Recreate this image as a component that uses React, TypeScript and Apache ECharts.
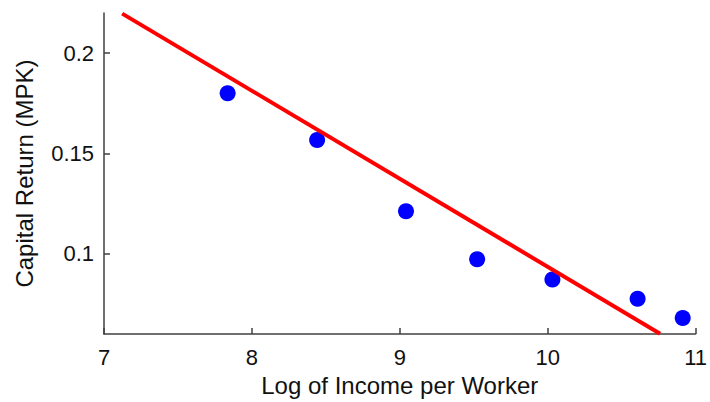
import React, { useEffect, useRef } from "react";
import * as echarts from "echarts";

const logIncome = [7.836, 8.441, 9.042, 9.523, 10.032, 10.608, 10.913];
const mpk = [0.18, 0.1567, 0.1212, 0.0973, 0.0872, 0.0776, 0.068];
const fitX = [7.123, 10.76];
const fitY = [0.2197, 0.0602];
const yTicks = [0.1, 0.15, 0.2];

export default function App() {
  const ref = useRef<HTMLDivElement>(null);
  useEffect(() => {
    if (!ref.current) return;
    const chart = echarts.init(ref.current, null, { renderer: "svg" });
    const font = "'Liberation Sans', Arial, Helvetica, sans-serif";
    const axisColor = "#404040";
    chart.setOption({
      animation: false,
      backgroundColor: "#ffffff",
      grid: { left: 104, top: 13, right: 11, bottom: 64, containLabel: false },
      xAxis: {
        type: "value",
        min: 7,
        max: 11,
        interval: 1,
        name: "Log of Income per Worker",
        nameLocation: "middle",
        nameGap: 38,
        nameTextStyle: { fontFamily: font, fontSize: 24, color: "#111" },
        axisLine: { show: true, onZero: false, lineStyle: { color: axisColor, width: 1.5 } },
        axisTick: { show: true, inside: true, length: 6, lineStyle: { color: axisColor, width: 1.5 } },
        axisLabel: { fontFamily: font, fontSize: 22, color: "#111", margin: 12 },
        splitLine: { show: false },
      },
      yAxis: {
        type: "value",
        min: 0.06,
        max: 0.22,
        name: "Capital Return (MPK)",
        nameLocation: "middle",
        nameGap: 68,
        nameTextStyle: { fontFamily: font, fontSize: 24, color: "#111" },
        axisLine: { show: true, onZero: false, lineStyle: { color: axisColor, width: 1.5 } },
        axisTick: { show: true, inside: true, length: 6, customValues: yTicks, lineStyle: { color: axisColor, width: 1.5 } },
        axisLabel: { fontFamily: font, fontSize: 22, color: "#111", margin: 10, customValues: yTicks },
        splitLine: { show: false },
      },
      series: [
        {
          type: "scatter",
          data: logIncome.map((x, i) => [x, mpk[i]]),
          symbol: "circle",
          symbolSize: 16,
          itemStyle: { color: "#0000ff", opacity: 1 },
          z: 2,
        },
        {
          type: "line",
          data: fitX.map((x, i) => [x, fitY[i]]),
          showSymbol: false,
          symbol: "none",
          clip: false,
          lineStyle: { color: "#ff0000", width: 4, cap: "butt" },
          z: 3,
        },
      ],
    });
    return () => chart.dispose();
  }, []);
  return <div ref={ref} style={{ width: 710, height: 402, position: "absolute", left: 0, top: 0 }} />;
}
